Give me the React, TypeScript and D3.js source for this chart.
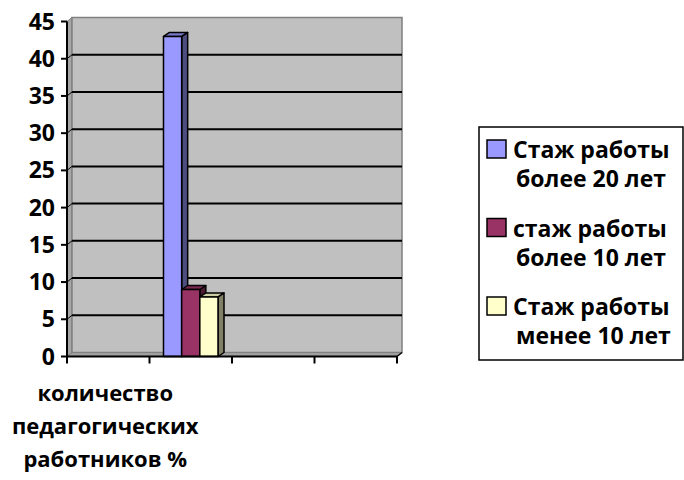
import React from 'react';
import * as d3 from 'd3';

const categories = ['количество педагогических работников %', '', '', ''];
const categoryLines = [['количество', 'педагогических', 'работников %'], [], [], []];
const series = ['Стаж работы более 20 лет', 'стаж работы более 10 лет', 'Стаж работы менее 10 лет'];
const legendLines = [
  ['Стаж работы', 'более 20 лет'],
  ['стаж работы', 'более 10 лет'],
  ['Стаж работы', 'менее 10 лет'],
];
const values = [43, 9, 8];
const yTicks = [0, 5, 10, 15, 20, 25, 30, 35, 40, 45];

const fronts = ['#9999FF', '#993366', '#FFFFCC'];
const tops = ['#7777CC', '#7A2952', '#CCCCA3'];
const sides = ['#4D4D80', '#4D1A33', '#808066'];

const font = '"Open Sans", sans-serif';

const App = () => {
  const width = 684;
  const height = 480;
  const left = 67;
  const right = 397;
  const bottom = 356.5;
  const top = 21.5;
  const dx = 5;
  const dy = -4;

  const y = d3.scaleLinear().domain([0, 45]).range([bottom, top]);
  const x = d3.scaleBand().domain(categories.map((c, i) => String(i))).range([left, right]).padding(0);
  // bars sit in the second slot of the axis, as in the original
  const barSlot = x('1') as number;
  const inner = d3.scaleBand().domain(series).range([barSlot, barSlot + x.bandwidth()]).paddingInner(0).paddingOuter(0.77);
  const bw = inner.bandwidth();

  const bdx = 6;
  const bdy = -4;

  return (
    <svg width={width} height={height} style={{ position: 'absolute', left: 0, top: 0 }}>
      {/* left wall */}
      <polygon
        points={`${left},${bottom} ${left},${top} ${left + dx},${top + dy} ${left + dx},${bottom + dy}`}
        fill="#A6A6A6" stroke="#808080" strokeWidth={1}
      />
      {/* back wall */}
      <rect x={left + dx} y={top + dy} width={right - left} height={bottom - top}
        fill="#C0C0C0" stroke="#808080" strokeWidth={1.5} />
      {/* floor */}
      <polygon
        points={`${left},${bottom} ${left + dx},${bottom + dy} ${right + dx},${bottom + dy} ${right},${bottom}`}
        fill="#A0A0A0" stroke="#808080" strokeWidth={1}
      />
      {/* gridlines */}
      {yTicks.filter(t => t > 0 && t < 45).map(t => (
        <g key={t}>
          <line x1={left + dx} x2={right + dx} y1={y(t) + dy} y2={y(t) + dy} stroke="#000" strokeWidth={2} />
          <line x1={left} x2={left + dx} y1={y(t)} y2={y(t) + dy} stroke="#000" strokeWidth={1} />
        </g>
      ))}
      {/* bars */}
      {series.map((s, i) => {
        const x0 = inner(s) as number;
        const x1 = x0 + bw;
        const yv = y(values[i]);
        return (
          <g key={s} stroke="#000" strokeWidth={1.5} strokeLinejoin="round">
            <polygon points={`${x1},${bottom} ${x1 + bdx},${bottom + bdy} ${x1 + bdx},${yv + bdy} ${x1},${yv}`} fill={sides[i]} />
            <polygon points={`${x0},${yv} ${x0 + bdx},${yv + bdy} ${x1 + bdx},${yv + bdy} ${x1},${yv}`} fill={tops[i]} />
            <rect x={x0} y={yv} width={bw} height={bottom - yv} fill={fronts[i]} />
          </g>
        );
      })}
      {/* axes */}
      <line x1={left} x2={left} y1={top} y2={bottom} stroke="#000" strokeWidth={2} />
      <line x1={left} x2={right} y1={bottom} y2={bottom} stroke="#000" strokeWidth={2} />
      <line x1={right} x2={right + dx} y1={bottom} y2={bottom + dy} stroke="#000" strokeWidth={1.5} />
      {yTicks.map(t => (
        <g key={t}>
          <line x1={left - 6} x2={left} y1={y(t)} y2={y(t)} stroke="#000" strokeWidth={2} />
          <text x={55} y={y(t)} dy="0.35em" textAnchor="end" fontFamily={font} fontWeight="bold" fontSize={23}>{t}</text>
        </g>
      ))}
      {categories.map((c, i) => (
        <line key={'t' + i} x1={x(String(i)) as number} x2={x(String(i)) as number} y1={bottom} y2={bottom + 7} stroke="#000" strokeWidth={2} />
      ))}
      <line x1={right} x2={right} y1={bottom} y2={bottom + 7} stroke="#000" strokeWidth={2} />
      {categories.map((c, i) => (
        <text key={'c' + i} x={(x(String(i)) as number) + x.bandwidth() / 2 - 3} y={401} textAnchor="middle"
          fontFamily={font} fontWeight="bold" fontSize={22}>
          {categoryLines[i].map((ln, j) => (
            <tspan key={j} x={(x(String(i)) as number) + x.bandwidth() / 2 - 3} dy={j === 0 ? 0 : 33}>{ln}</tspan>
          ))}
        </text>
      ))}
      {/* legend */}
      <rect x={479} y={127} width={204} height={233} fill="#fff" stroke="#000" strokeWidth={1.5} />
      {series.map((s, i) => {
        const by = 158 + i * 78.5;
        return (
          <g key={'l' + i}>
            <rect x={487} y={by - 18} width={19} height={18} fill={fronts[i]} stroke="#000" strokeWidth={1.5} />
            <text x={513} y={by} fontFamily={font} fontWeight="bold" fontSize={23}>{legendLines[i][0]}</text>
            <text x={516} y={by + 29} fontFamily={font} fontWeight="bold" fontSize={23}>{legendLines[i][1]}</text>
          </g>
        );
      })}
    </svg>
  );
};

export default App;
